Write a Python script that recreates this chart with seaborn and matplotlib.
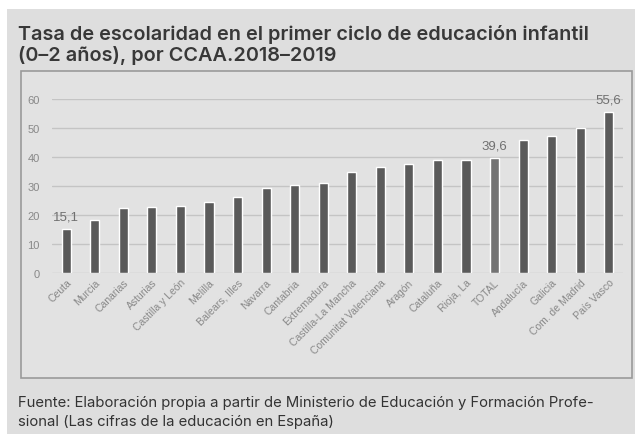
import pandas as pd
import matplotlib.pyplot as plt
import matplotlib.patches as patches
import seaborn as sns

# -----------------------------------------------------------------------------
# ----------------- data ------------------------------------------------------
REGIONS = ['Ceuta', 'Murcia', 'Canarias', 'Asturias', 'Castilla y León',
           'Melilla', 'Balears, Illes', 'Navarra', 'Cantabria', 'Extremadura',
           'Castilla-La Mancha', 'Comunitat Valenciana', 'Aragón', 'Cataluña',
           'Rioja, La', 'TOTAL', 'Andalucía', 'Galicia', 'Com. de Madrid',
           'País Vasco']
RATES = [15.1, 18.3, 22.4, 22.8, 23.1, 24.5, 26.2, 29.3, 30.2, 31.0,
         34.8, 36.7, 37.6, 39.1, 39.0, 39.6, 45.7, 47.1, 50.1, 55.6]
LABELLED = ['Ceuta', 'TOTAL', 'País Vasco']
Y_TICKS = [0, 10, 20, 30, 40, 50, 60]

TITLE = ('Tasa de escolaridad en el primer ciclo de educación infantil\n'
         '(0–2 años), por CCAA.2018–2019')
SOURCE = ('Fuente: Elaboración propia a partir de Ministerio de Educación y '
          'Formación Profe-\nsional (Las cifras de la educación en España)')

# -----------------------------------------------------------------------------

W, H = 635, 435
BG = '#dedede'
BAR = '#5a5a5a'
BAR_TOTAL = '#737373'
ARIAL = ['Liberation Sans', 'DejaVu Sans']


def fx(px):
    return px / W


def fy(py):
    return 1 - py / H


df = pd.DataFrame({'region': REGIONS, 'rate': RATES})
colors = [BAR_TOTAL if r == 'TOTAL' else BAR for r in REGIONS]

sns.set_theme(style='white')
plt.rcParams['font.family'] = ['Inter', 'DejaVu Sans']

fig = plt.figure(figsize=(W / 100, H / 100), dpi=100, facecolor='white')

# grey card behind everything
fig.patches.append(patches.Rectangle((fx(7), 0), 1 - fx(7), fy(10),
                                     transform=fig.transFigure,
                                     facecolor=BG, edgecolor='none',
                                     zorder=-2))
# bordered chart box
fig.patches.append(patches.Rectangle((fx(21), fy(379)), fx(632) - fx(21),
                                     fy(72) - fy(379),
                                     transform=fig.transFigure,
                                     facecolor='#e2e2e2', edgecolor='#9a9a9a',
                                     linewidth=1.2, zorder=-1))

ax = fig.add_axes([fx(52), fy(274), fx(623) - fx(52), fy(100) - fy(274)])
ax.set_zorder(1)
ax.set_facecolor('none')

sns.barplot(data=df, x='region', y='rate', hue='region', palette=colors,
            legend=False, width=0.32, saturation=1, ax=ax, zorder=3)

ax.set_ylim(0, 60)
ax.set_yticks(Y_TICKS)
ax.yaxis.grid(True, color='#c4c4c4', linewidth=1)
ax.set_axisbelow(True)
sns.despine(ax=ax, left=True, bottom=True)
ax.set_xlabel('')
ax.set_ylabel('')
ax.tick_params(axis='y', labelsize=8, colors='#888888', pad=9, length=0)
ax.tick_params(axis='x', labelsize=7.5, colors='#888888', pad=3, length=0)
ax.set_xticks(range(len(REGIONS)))
ax.set_xticklabels(REGIONS, rotation=45, ha='right', rotation_mode='anchor',
                   family=ARIAL)
for lbl in ax.get_yticklabels():
    lbl.set_family(ARIAL)

for i, (reg, val) in enumerate(zip(REGIONS, RATES)):
    if reg in LABELLED:
        ax.text(i, val + 2.2, ('%.1f' % val).replace('.', ','),
                ha='center', va='bottom', fontsize=9.5, color='#707070',
                family=ARIAL, clip_on=False)

fig.text(fx(18), fy(25), TITLE, ha='left', va='top', fontsize=14.3,
         fontweight='semibold', color='#383838', linespacing=1.15)
fig.text(fx(18), fy(396), SOURCE, ha='left', va='top', fontsize=10.7,
         color='#333333', linespacing=1.45)

fig.savefig('out.png', dpi=100, facecolor=fig.get_facecolor())
